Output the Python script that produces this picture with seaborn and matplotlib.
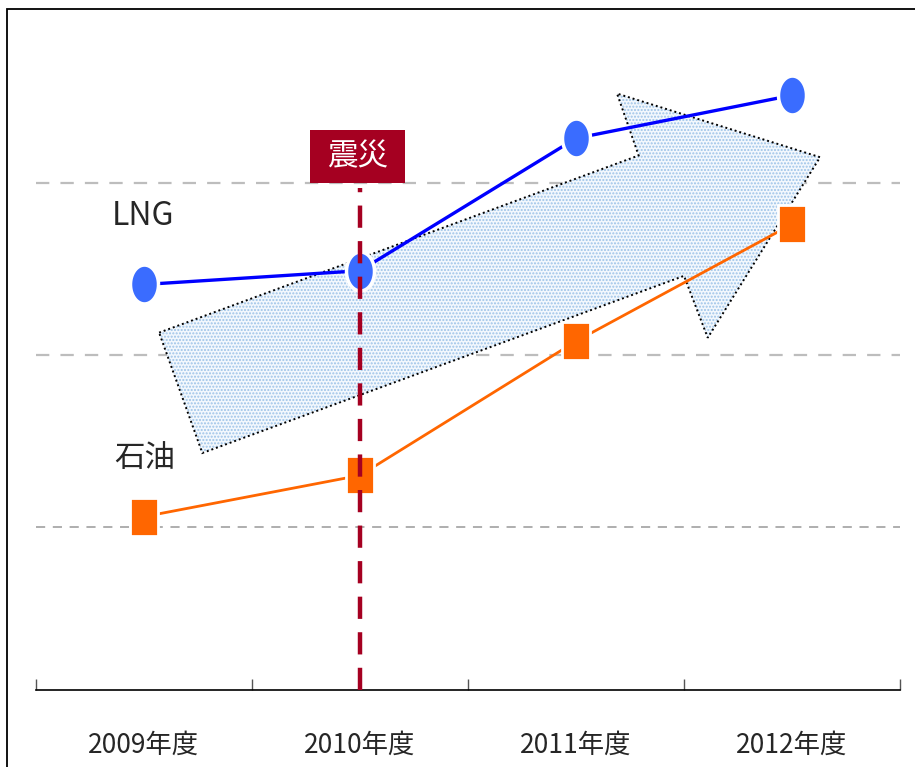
import numpy as np
import pandas as pd
import seaborn as sns
import matplotlib.pyplot as plt
from matplotlib.patches import Polygon, Rectangle

years = ["2009年度", "2010年度", "2011年度", "2012年度"]
lng = [2.41, 2.49, 3.26, 3.51]
oil = [1.06, 1.30, 2.08, 2.76]
grid_levels = [1, 2, 3]
event_label = "震災"
event_year = "2010年度"

# big arrow drawn behind the lines (x in category units, y in data units)
arrow_x = [0.07, 2.29, 2.19, 3.13, 2.61, 2.50, 0.27]
arrow_y = [2.13, 3.16, 3.52, 3.15, 2.10, 2.46, 1.43]

sns.set_style("white")
plt.rcParams['font.family'] = ['Noto Sans CJK JP', 'DejaVu Sans']

fig = plt.figure(figsize=(9.15, 7.67), dpi=100)
ax = fig.add_axes([36 / 915, 1 - 690 / 767, 864 / 915, 680 / 767])

df = pd.DataFrame({"year": years, "LNG": lng, "石油": oil})

# ellipse / tall rectangle markers (picture is squeezed horizontally)
t = np.linspace(0, 2 * np.pi, 60)
ellipse = list(zip(0.72 * np.cos(t), np.sin(t)))
tall_sq = [(-0.75, -1), (0.75, -1), (0.75, 1), (-0.75, 1), (-0.75, -1)]

sns.lineplot(data=df, x="year", y="LNG", ax=ax, color="#0000ff", lw=2.4,
             marker=ellipse, markersize=28, markerfacecolor="#3a6cff",
             markeredgecolor="white", markeredgewidth=2.5, zorder=4)
sns.lineplot(data=df, x="year", y="石油", ax=ax, color="#ff6600", lw=2.0,
             marker=tall_sq, markersize=27, markerfacecolor="#ff6600",
             markeredgecolor="white", markeredgewidth=2.0, zorder=4)

ax.set_xlim(-0.5, 3.5)
ax.set_ylim(0.052, 4.006)

# arrow
pts = list(zip(arrow_x, arrow_y))
ax.add_patch(Polygon(pts, closed=True, facecolor="#f3f8fd", edgecolor="#9dc3e8",
                     hatch=".....", lw=0, zorder=1))
ax.add_patch(Polygon(pts, closed=True, fill=False, edgecolor="black",
                     linestyle=(0, (1, 1.5)), lw=1.4, zorder=2))

for g in grid_levels:
    ax.axhline(g, color="#bdbdbd" if g > 1 else "#999999", lw=1.6 if g > 1 else 1.1,
               dashes=(6, 5), zorder=0)

# event marker
ex = years.index(event_year)
ax.vlines(ex, 0.052, 2.97, color="#a50021", lw=3.2, linestyles=(0, (5, 3)), zorder=5)
ax.add_patch(Rectangle((ex - 0.23, 3.0), 0.44, 0.31, facecolor="#a50021",
                       edgecolor="none", zorder=5))
ax.text(ex - 0.01, 3.155, event_label, color="white", fontsize=22, ha="center",
        va="center", zorder=6)

ax.text(-0.15, 2.81, "LNG", fontsize=23, ha="left", va="center")
ax.text(-0.14, 1.40, "石油", fontsize=22, ha="left", va="center")

# axis styling
for s in ["left", "right", "top"]:
    ax.spines[s].set_visible(False)
ax.spines["bottom"].set_color("black")
ax.spines["bottom"].set_linewidth(1.2)
ax.set_yticks([])
ax.set_xlabel("")
ax.set_ylabel("")
ax.set_xticks(range(len(years)))
ax.set_xticklabels(years, fontsize=19)
ax.set_xticks(np.arange(-0.5, len(years), 1), minor=True)
ax.tick_params(axis="x", which="major", length=0, pad=30)
ax.tick_params(axis="x", which="minor", direction="in", length=8, color="#555555",
               width=1, bottom=True)
ax.grid(False)

# outer frame (partly off the canvas)
fig.add_artist(Rectangle((7 / 915, -0.1), 1.2, 1.1 - 9 / 767, transform=fig.transFigure,
                         fill=False, edgecolor="black", lw=1.3))

fig.savefig("out.png", dpi=100)
